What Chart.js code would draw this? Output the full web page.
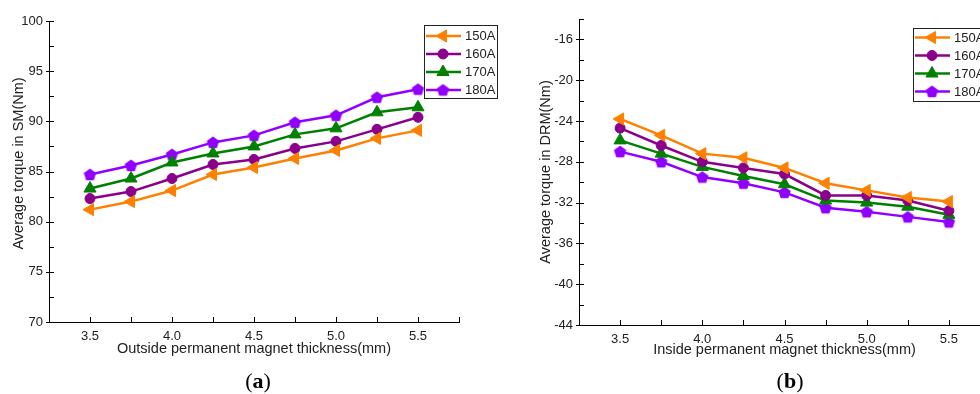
<!DOCTYPE html>
<html>
<head>
<meta charset="utf-8">
<script src="https://cdn.jsdelivr.net/npm/chart.js@4.4.1/dist/chart.umd.min.js"></script>
<style>
  html, body { margin: 0; padding: 0; background: #fff; }
  body { width: 980px; height: 394px; position: relative; overflow: hidden; }
  canvas { position: absolute; top: 0; }
  #chartA { left: 0; }
  #chartB { left: 490px; }
  .cap { position: absolute; top: 370px; transform: translateX(-50%);
         font-family: "Liberation Serif", "Times New Roman", serif;
         font-size: 22px; line-height: 22px; color: #000; }
</style>
</head>
<body>
<canvas id="chartA" width="500" height="394"></canvas>
<canvas id="chartB" width="510" height="394"></canvas>
<div class="cap" style="left:258px">(<b>a</b>)</div>
<div class="cap" style="left:790px">(<b>b</b>)</div>
<script>
// data
const thickness = [3.5, 3.75, 4.0, 4.25, 4.5, 4.75, 5.0, 5.25, 5.5];
const currents = ['150A', '160A', '170A', '180A'];

// (a) average torque in SM
const sm150 = [81.2, 82.0, 83.1, 84.7, 85.4, 86.3, 87.1, 88.3, 89.1];
const sm160 = [82.3, 83.0, 84.3, 85.7, 86.2, 87.3, 88.0, 89.2, 90.4];
const sm170 = [83.3, 84.3, 85.9, 86.8, 87.5, 88.7, 89.3, 90.9, 91.4];
const sm180 = [84.7, 85.6, 86.7, 87.9, 88.6, 89.9, 90.6, 92.4, 93.2];

// (b) average torque in DRM
const drm150 = [-23.8, -25.4, -27.2, -27.6, -28.6, -30.1, -30.8, -31.5, -31.9];
const drm160 = [-24.7, -26.4, -28.0, -28.6, -29.2, -31.3, -31.3, -31.8, -32.8];
const drm170 = [-25.9, -27.2, -28.5, -29.4, -30.2, -31.8, -32.0, -32.4, -33.2];
const drm180 = [-27.0, -28.0, -29.5, -30.1, -31.0, -32.5, -32.9, -33.4, -33.9];

// tick labels
const xTicks = [3.5, 4.0, 4.5, 5.0, 5.5];
const smTicks = [70, 75, 80, 85, 90, 95, 100];
const drmTicks = [-44, -40, -36, -32, -28, -24, -20, -16];

const FONT = '"Liberation Sans", Arial, sans-serif';
const TEXT = '#222';

// pentagon marker for the 180A series
function pentagon(color, r) {
  const c = document.createElement('canvas');
  const s = Math.ceil(r * 2 + 2);
  c.width = s; c.height = s;
  const g = c.getContext('2d');
  g.fillStyle = color;
  g.beginPath();
  for (let k = 0; k < 5; k++) {
    const a = -Math.PI / 2 + k * 2 * Math.PI / 5;
    const px = s / 2 + r * Math.cos(a), py = s / 2 + 0.6 + r * Math.sin(a);
    k ? g.lineTo(px, py) : g.moveTo(px, py);
  }
  g.closePath();
  g.fill();
  return c;
}

const styles = [
  { color: '#ff8000', point: 'triangle', rot: -90, r: 7 },
  { color: '#8b008b', point: 'circle', rot: 0, r: 5 },
  { color: '#008000', point: 'triangle', rot: 0, r: 7 },
  { color: '#9100ff', point: pentagon('#9100ff', 6.5), rot: 0, r: 6 }
];

function makeDatasets(series) {
  return series.map((vals, i) => {
    const st = styles[i];
    return {
      label: currents[i],
      data: thickness.map((t, k) => ({ x: t, y: vals[k] })),
      borderColor: st.color,
      backgroundColor: st.color,
      borderWidth: 2.5,
      pointStyle: st.point,
      pointRotation: st.rot,
      pointRadius: st.r,
      pointBorderWidth: 1,
      pointBackgroundColor: st.color,
      pointBorderColor: st.color,
      tension: 0,
      clip: false
    };
  });
}

function drawMarker(ctx, ds, x, y) {
  ctx.fillStyle = ds.pointBackgroundColor;
  ctx.strokeStyle = ds.pointBorderColor;
  ctx.lineWidth = ds.pointBorderWidth;
  if (Chart.helpers && Chart.helpers.drawPoint) {
    Chart.helpers.drawPoint(ctx, {
      pointStyle: ds.pointStyle, rotation: ds.pointRotation,
      radius: ds.pointRadius, borderWidth: ds.pointBorderWidth
    }, x, y);
    return;
  }
  if (typeof ds.pointStyle !== 'string') {
    ctx.drawImage(ds.pointStyle, x - ds.pointStyle.width / 2, y - ds.pointStyle.height / 2);
    return;
  }
  ctx.beginPath();
  ctx.arc(x, y, ds.pointRadius, 0, Math.PI * 2);
  ctx.fill();
}

// legend box drawn inside the plot like the original
const boxLegend = {
  id: 'boxLegend',
  afterDraw(chart, args, o) {
    const ctx = chart.ctx;
    ctx.save();
    ctx.fillStyle = '#fff';
    ctx.fillRect(o.left, o.top, o.width, o.height);
    ctx.strokeStyle = '#222';
    ctx.lineWidth = 1;
    ctx.strokeRect(o.left + 0.5, o.top + 0.5, o.width, o.height);
    chart.data.datasets.forEach((ds, i) => {
      const y = o.top + o.firstRow + i * o.rowStep;
      ctx.strokeStyle = ds.borderColor;
      ctx.lineWidth = ds.borderWidth;
      ctx.beginPath();
      ctx.moveTo(o.left + 2, y);
      ctx.lineTo(o.left + 37, y);
      ctx.stroke();
      drawMarker(ctx, ds, o.left + 19, y);
      ctx.fillStyle = TEXT;
      ctx.font = '13px ' + FONT;
      ctx.textBaseline = 'middle';
      ctx.textAlign = 'left';
      ctx.fillText(ds.label, o.left + 41, y + 0.5);
    });
    ctx.restore();
  }
};

// inward tick marks, major and minor
const innerTicks = {
  id: 'innerTicks',
  afterDraw(chart, args, o) {
    const { ctx, chartArea: a, scales: { x, y } } = chart;
    ctx.save();
    ctx.strokeStyle = '#000';
    ctx.lineWidth = 1;
    ctx.beginPath();
    for (let v = x.min; v <= x.max + 1e-9; v += o.xStep) {
      const px = Math.round(x.getPixelForValue(v)) + 0.5;
      ctx.moveTo(px, a.bottom);
      ctx.lineTo(px, a.bottom - 5);
    }
    let n = 0;
    for (let v = y.min; v <= y.max + 1e-9; v += o.yStep, n++) {
      const py = Math.round(y.getPixelForValue(v)) + 0.5;
      ctx.moveTo(a.left - (n % 2 === 0 ? 3 : 0), py);
      ctx.lineTo(a.left + 5, py);
    }
    ctx.stroke();
    ctx.restore();
  }
};

function makeChart(id, cfg) {
  return new Chart(document.getElementById(id), {
    type: 'line',
    data: { datasets: makeDatasets(cfg.series) },
    plugins: [innerTicks, boxLegend],
    options: {
      responsive: false,
      animation: false,
      devicePixelRatio: 1,
      layout: { padding: cfg.padding },
      plugins: {
        legend: { display: false },
        tooltip: { enabled: false },
        boxLegend: cfg.legend,
        innerTicks: { xStep: 0.25, yStep: cfg.yMinor }
      },
      scales: {
        x: {
          type: 'linear',
          min: 3.25,
          max: 5.75,
          afterBuildTicks: s => { s.ticks = xTicks.map(v => ({ value: v })); },
          afterFit: s => { s.height = cfg.xHeight; },
          grid: { drawOnChartArea: false, drawTicks: false },
          border: { display: true, color: '#000', width: 1 },
          ticks: {
            padding: 7, color: TEXT, font: { family: FONT, size: 13 },
            maxRotation: 0, autoSkip: false,
            callback: v => Number(v).toFixed(1)
          },
          title: {
            display: true, text: cfg.xTitle, color: TEXT,
            font: { family: FONT, size: 14.5 },
            padding: { top: 0, bottom: cfg.xTitlePad }
          }
        },
        y: {
          min: cfg.yMin,
          max: cfg.yMax,
          afterBuildTicks: s => { s.ticks = cfg.yTicks.map(v => ({ value: v })); },
          afterFit: s => { s.width = cfg.yWidth; },
          grid: { drawOnChartArea: false, drawTicks: false },
          border: { display: true, color: '#000', width: 1 },
          ticks: { padding: 6, color: TEXT, font: { family: FONT, size: 13 }, autoSkip: false },
          title: {
            display: true, text: cfg.yTitle, color: TEXT,
            font: { family: FONT, size: 14.5 },
            padding: { top: 10, bottom: 0 }
          }
        }
      }
    }
  });
}

makeChart('chartA', {
  series: [sm150, sm160, sm170, sm180],
  padding: { left: 0, top: 21, right: 41, bottom: 0 },
  xHeight: 72, xTitlePad: 36, yWidth: 49,
  yMin: 70, yMax: 100, yTicks: smTicks, yMinor: 2.5,
  xTitle: 'Outside permanent magnet thickness(mm)',
  // leading spaces nudge the title up a little, as in the original
  yTitle: '\u00a0\u00a0\u00a0\u00a0Average torque in SM(Nm)',
  legend: { left: 424, top: 25, width: 73, height: 73, firstRow: 11, rowStep: 18 }
});

makeChart('chartB', {
  series: [drm150, drm160, drm170, drm180],
  padding: { left: 37, top: 19, right: 10, bottom: 0 },
  xHeight: 69, xTitlePad: 35, yWidth: 52,
  yMin: -44, yMax: -14, yTicks: drmTicks, yMinor: 2,
  xTitle: 'Inside permanent magnet thickness(mm)',
  yTitle: 'Average torque in DRM(Nm)',
  legend: { left: 423, top: 28, width: 73, height: 73, firstRow: 9.5, rowStep: 18 }
});
</script>
</body>
</html>
